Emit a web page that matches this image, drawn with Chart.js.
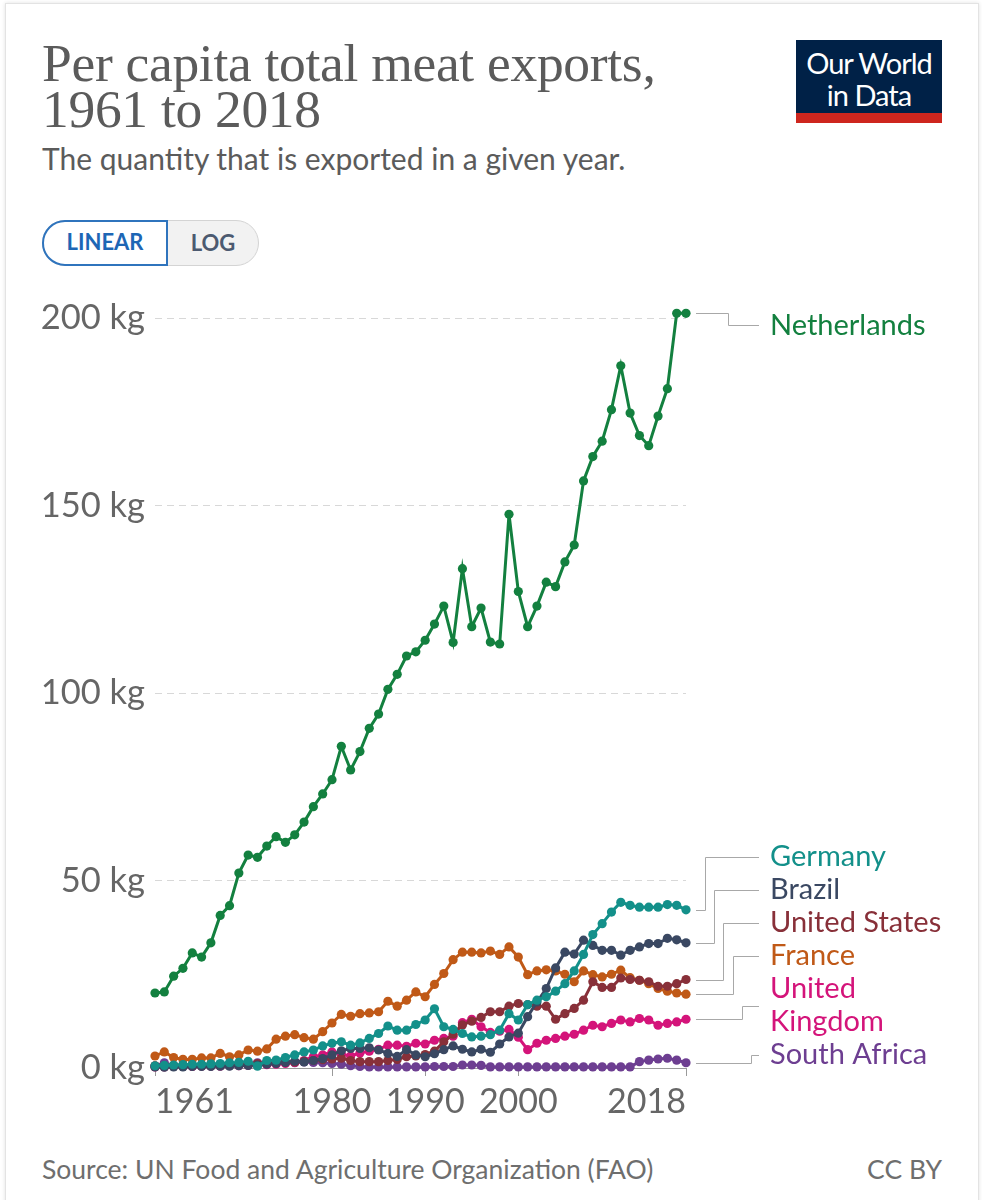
<!DOCTYPE html>
<html>
<head>
<meta charset="utf-8">
<script src="https://cdn.jsdelivr.net/npm/chart.js@4.4.1/dist/chart.umd.min.js"></script>
<style>
  body { margin: 0; background: #fff; font-family: Lato, sans-serif; }
  #page { position: relative; width: 982px; height: 1200px; overflow: hidden; background: #fff; }
  #card { position: absolute; left: 5px; top: 3px; width: 974px; height: 1220px; border: 1px solid #e3e3e3;
          box-shadow: 0 0 4px rgba(0,0,0,0.12); box-sizing: border-box; }
  h1 { position: absolute; left: 42px; top: 40px; margin: 0; font-family: "Liberation Serif", serif; font-weight: normal;
       font-size: 53.5px; line-height: 46px; color: #5b5b5b; letter-spacing: -0.3px; }
  .sub { position: absolute; left: 42px; top: 141px; font-size: 30px; line-height: 34px; color: #5b5b5b; }
  .toggle { position: absolute; left: 42px; top: 220px; height: 46px; display: flex; border-radius: 23px;
            border: 1px solid #d4d4d4; background: #f2f2f2; box-sizing: border-box; }
  .toggle div { font-size: 22px; font-weight: bold; line-height: 44px; text-align: center; }
  .lin { width: 126px; color: #1d66b5; background: #fff; border: 2px solid #2f74bd; border-radius: 23px 0 0 23px;
         box-sizing: border-box; line-height: 40px !important; margin: -1px 0 -1px -1px; height: 46px; }
  .log { width: 90px; color: #4c5a70; }
  .logo { position: absolute; left: 796px; top: 40px; width: 146px; height: 83px; background: #002147; color: #fff;
          text-align: center; font-size: 29px; line-height: 32px; padding-top: 7px; box-sizing: border-box; letter-spacing: -1px; }
  .logo .bar { position: absolute; left: 0; bottom: 0; width: 100%; height: 10px; background: #ce261e; }
  #chartBox { position: absolute; left: 0; top: 280px; width: 982px; height: 860px; }
  .foot { position: absolute; top: 1153px; font-size: 26.5px; color: #6e6e6e; }
</style>
</head>
<body>
<div id="page">
  <div id="card"></div>
  <h1>Per capita total meat exports,<br>1961 to 2018</h1>
  <div class="sub">The quantity that is exported in a given year.</div>
  <div class="toggle"><div class="lin">LINEAR</div><div class="log">LOG</div></div>
  <div class="logo">Our World<br>in Data<div class="bar"></div></div>
  <div id="chartBox"><canvas id="chart" width="982" height="860"></canvas></div>
  <div class="foot" style="left:42px">Source: UN Food and Agriculture Organization (FAO)</div>
  <div class="foot" style="right:40px">CC BY</div>
</div>
<script>
// Years 1961..2018 (one value per year)
const years = Array.from({ length: 58 }, (_, i) => 1961 + i);
const xTicks = [1961, 1980, 1990, 2000, 2018];
const yTicks = [0, 50, 100, 150, 200];

// kg per person
const netherlands = [
  20.0, 20.3, 24.5, 26.6, 30.7, 29.6, 33.4, 40.7, 43.3, 52.0,
  56.8, 56.2, 59.2, 61.7, 60.2, 62.2, 65.6, 69.7, 73.1, 76.9,
  85.8, 79.5, 84.4, 90.6, 94.4, 101.0, 105.0, 109.9, 111.0, 114.1,
  118.4, 123.2, 113.5, 133.2, 117.7, 122.7, 113.6, 113.1, 147.7, 127.1,
  117.7, 123.2, 129.6, 128.4, 135.0, 139.5, 156.6, 163.1, 167.2, 175.6,
  187.3, 174.7, 168.7, 166.0, 173.9, 181.2, 201.3, 201.3
];
const germany = [
  0.6, 0.7, 0.8, 0.9, 1.0, 1.0, 1.1, 1.2, 1.4, 1.5,
  1.8, 0.5, 2.0, 2.1, 2.8, 3.5, 4.3, 4.8, 5.9, 6.6,
  7.0, 6.1, 6.7, 7.9, 9.2, 11.2, 10.1, 10.1, 11.6, 12.8,
  15.8, 11.0, 10.3, 9.2, 8.3, 8.5, 8.9, 10.1, 14.5, 12.8,
  16.9, 18.1, 19.0, 20.5, 22.5, 25.9, 30.3, 35.6, 38.5, 41.6,
  44.2, 43.4, 42.9, 42.9, 42.9, 43.6, 43.4, 42.2
];
const brazil = [
  0.3, 0.2, 0.3, 0.3, 0.4, 0.4, 0.4, 0.5, 0.5, 0.6,
  0.7, 0.8, 1.0, 1.2, 1.5, 1.8, 1.6, 2.0, 2.5, 3.5,
  4.6, 5.2, 5.2, 5.4, 4.8, 3.9, 3.1, 4.9, 3.5, 3.0,
  3.8, 4.9, 5.9, 5.0, 4.3, 5.0, 4.2, 6.4, 8.3, 9.3,
  13.7, 17.6, 21.2, 26.7, 30.9, 30.4, 34.1, 32.7, 31.4, 31.4,
  30.1, 31.4, 32.3, 33.2, 33.2, 34.6, 34.2, 33.4
];
const unitedStates = [
  0.6, 0.6, 0.7, 0.7, 0.8, 0.8, 0.9, 0.9, 1.0, 1.0,
  1.1, 1.2, 1.3, 1.4, 1.5, 1.6, 1.8, 2.0, 2.2, 2.4,
  2.6, 2.0, 1.7, 1.7, 1.7, 2.0, 2.3, 3.0, 3.2, 3.6,
  4.5, 7.0, 9.0, 11.5, 12.5, 13.5, 15.0, 15.0, 16.5, 17.2,
  16.9, 16.5, 16.5, 13.0, 14.5, 15.9, 18.1, 23.0, 21.5, 21.5,
  24.0, 23.6, 23.4, 23.0, 21.8, 21.8, 22.5, 23.6
];
const france = [
  3.2, 4.3, 2.8, 2.3, 2.3, 2.7, 2.7, 3.9, 3.0, 3.5,
  4.8, 4.5, 5.1, 7.7, 8.5, 8.9, 8.1, 7.7, 9.7, 12.0,
  14.3, 13.8, 14.5, 14.7, 15.0, 17.8, 16.5, 18.1, 20.3, 19.0,
  22.3, 25.2, 28.9, 30.9, 30.9, 30.7, 31.2, 30.3, 32.3, 29.6,
  24.9, 25.9, 26.2, 25.9, 25.0, 23.0, 25.9, 24.9, 24.3, 25.0,
  26.1, 24.1, 23.4, 22.5, 21.2, 20.5, 20.0, 19.7
];
const unitedKingdom = [
  0.3, 0.3, 0.4, 0.4, 0.4, 0.5, 0.5, 0.5, 0.6, 0.6,
  0.7, 0.8, 0.9, 1.0, 1.2, 1.5, 2.0, 3.0, 3.5, 4.3,
  3.7, 3.2, 4.0, 4.5, 5.0, 6.1, 6.1, 5.8, 6.6, 6.4,
  7.4, 7.9, 8.5, 12.1, 13.0, 11.0, 9.5, 9.8, 10.3, 8.2,
  4.9, 6.6, 7.4, 7.9, 8.5, 9.0, 10.1, 11.4, 11.0, 11.9,
  12.8, 12.3, 13.2, 12.8, 11.4, 11.9, 12.3, 13.0
];
const southAfrica = [
  0.5, 1.4, 0.6, 0.5, 0.5, 0.6, 0.6, 0.8, 0.9, 1.0,
  1.2, 1.4, 1.5, 1.6, 1.5, 1.4, 1.6, 1.5, 1.4, 1.2,
  1.0, 0.6, 0.4, 0.3, 0.3, 0.3, 0.3, 0.3, 0.3, 0.3,
  0.4, 0.4, 0.4, 0.8, 0.8, 0.7, 0.3, 0.3, 0.3, 0.3,
  0.3, 0.3, 0.3, 0.3, 0.3, 0.3, 0.3, 0.3, 0.3, 0.3,
  0.3, 0.3, 1.7, 2.1, 2.4, 2.6, 2.1, 1.4
];

const seriesNames = ['Netherlands', 'Germany', 'Brazil', 'United States', 'France', 'United Kingdom', 'South Africa'];
const seriesLabelLines = [['Netherlands'], ['Germany'], ['Brazil'], ['United States'], ['France'], ['United', 'Kingdom'], ['South Africa']];
const seriesValues = [netherlands, germany, brazil, unitedStates, france, unitedKingdom, southAfrica];
const seriesColors = ['#13803f', '#13908a', '#3a4862', '#883039', '#c05917', '#d4147a', '#6d3e91'];

const LABEL_LINE_H = 33;

// draws the series names on the right with the elbow connectors
const endLabels = {
  id: 'endLabels',
  afterDraw(chart) {
    const { ctx, chartArea, scales } = chart;
    const topTick = scales.y.getPixelForValue(yTicks[yTicks.length - 1]);
    const items = chart.data.datasets.map((ds, i) => {
      const last = ds.data[ds.data.length - 1];
      const lines = seriesLabelLines[i];
      return { lines, color: ds.borderColor, py: scales.y.getPixelForValue(last.y), h: lines.length * LABEL_LINE_H };
    });
    items.sort((a, b) => a.py - b.py);

    // stack labels from the bottom so they don't overlap
    let limit = chartArea.bottom - 13 + LABEL_LINE_H / 2;
    for (let k = items.length - 1; k >= 0; k--) {
      const it = items[k];
      it.cy = Math.min(it.py, limit - it.h / 2);
      limit = it.cy - it.h / 2;
    }
    items.forEach(it => { it.cy = Math.max(it.cy, topTick + 7); });

    // group labels that touch each other
    const groups = [];
    items.forEach((it, k) => {
      const prev = items[k - 1];
      if (prev && (it.cy - it.h / 2) - (prev.cy + prev.h / 2) < 2) groups[groups.length - 1].push(it);
      else groups.push([it]);
    });

    const x0 = chartArea.right + 10, x1 = chartArea.right + 73;
    ctx.save();
    ctx.lineWidth = 1;
    ctx.strokeStyle = '#a8a8a8';
    ctx.font = '29px Lato';
    ctx.textBaseline = 'middle';
    groups.forEach(g => {
      g.forEach((it, k) => {
        const ex = g.length === 1 ? (x0 + x1) / 2 : x0 + 9 + k * 9.2;
        ctx.beginPath();
        ctx.moveTo(x0, Math.round(it.py) + 0.5);
        ctx.lineTo(Math.round(ex) + 0.5, Math.round(it.py) + 0.5);
        ctx.lineTo(Math.round(ex) + 0.5, Math.round(it.cy) + 0.5);
        ctx.lineTo(x1, Math.round(it.cy) + 0.5);
        ctx.stroke();
        ctx.fillStyle = it.color;
        const top = it.cy - it.h / 2 + LABEL_LINE_H / 2;
        it.lines.forEach((line, j) => ctx.fillText(line, x1 + 11, top + j * LABEL_LINE_H));
      });
    });
    ctx.restore();
  }
};

const datasets = seriesNames.map((name, i) => ({
  label: name,
  data: years.map((yr, k) => ({ x: yr, y: seriesValues[i][k] })),
  borderColor: seriesColors[i],
  backgroundColor: seriesColors[i],
  pointBackgroundColor: seriesColors[i],
  borderWidth: 3,
  pointRadius: 4.6,
  pointBorderWidth: 0,
  tension: 0,
  clip: false
}));

new Chart(document.getElementById('chart'), {
  type: 'line',
  data: { datasets },
  options: {
    responsive: false,
    animation: false,
    events: [],
    layout: { padding: { top: 29.5, right: 296, left: 0, bottom: 0 } },
    plugins: { legend: { display: false }, tooltip: { enabled: false } },
    scales: {
      x: {
        type: 'linear',
        min: 1961,
        max: 2018,
        afterBuildTicks: s => { s.ticks = xTicks.map(v => ({ value: v })); },
        afterFit: s => { s.height = 72; },
        grid: { drawOnChartArea: false, color: '#9a9a9a', tickLength: 8 },
        border: { color: '#9a9a9a' },
        ticks: {
          align: 'inner', autoSkip: false, maxRotation: 0, padding: 6, color: '#666',
          font: { family: 'Lato', size: 34 },
          callback: v => String(v)
        }
      },
      y: {
        min: 0,
        max: 202,
        afterBuildTicks: s => { s.ticks = yTicks.map(v => ({ value: v })); },
        afterFit: s => { s.width = 155; },
        grid: { color: '#d8d8d8', drawTicks: false },
        border: { display: false, dash: [7, 5] },
        ticks: {
          padding: 10, color: '#666',
          font: { family: 'Lato', size: 34.5 },
          callback: v => v + ' kg'
        }
      }
    }
  },
  plugins: [endLabels]
});
</script>
</body>
</html>
